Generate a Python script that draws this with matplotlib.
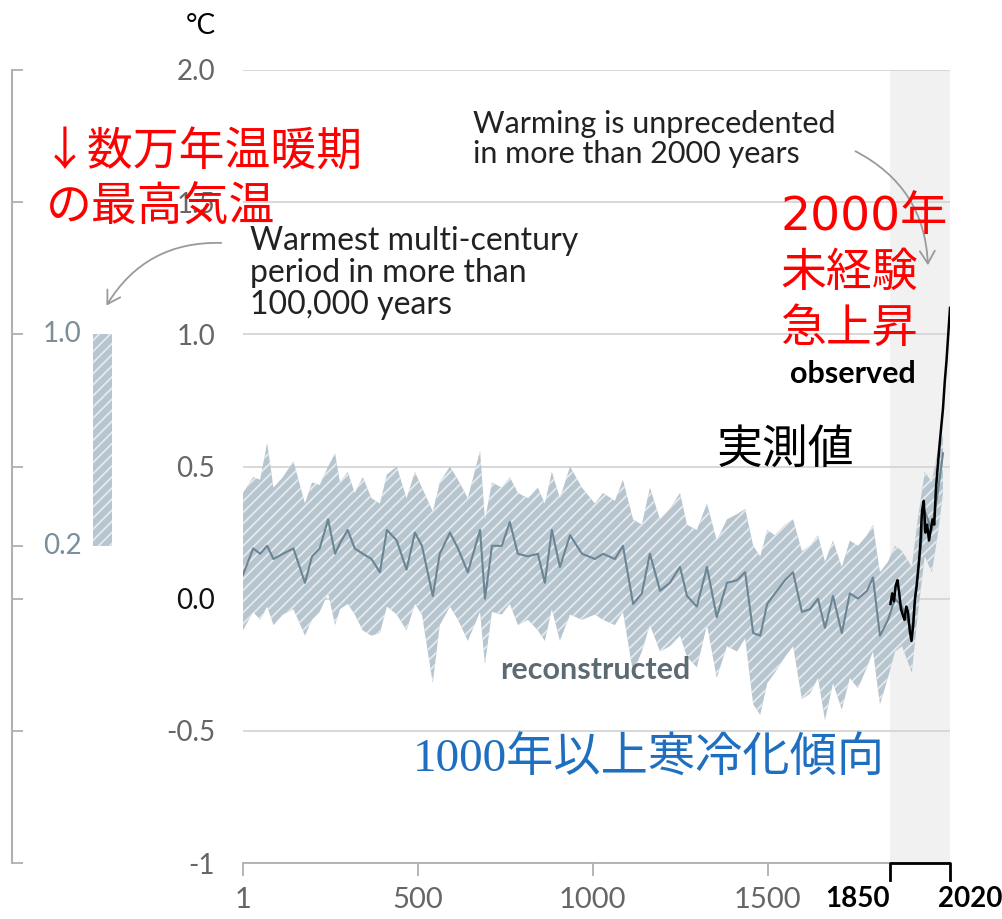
import matplotlib
matplotlib.use("Agg")
import matplotlib.pyplot as plt
from matplotlib.patches import FancyArrowPatch

plt.rcParams['font.family'] = ['Lato', 'Noto Sans CJK JP', 'DejaVu Sans']
plt.rcParams['hatch.linewidth'] = 1.3

# reconstructed global surface temperature (median and band), years 1-2000
recon_years = [1, 30, 50, 70, 88, 115, 145, 178, 198, 220,
               244, 264, 278, 300, 320, 343, 368, 392, 412, 440,
               468, 492, 512, 543, 563, 592, 615, 643, 678, 692,
               712, 740, 763, 786, 815, 843, 863, 883, 906, 935,
               969, 1006, 1029, 1063, 1086, 1115, 1140, 1163, 1192, 1220,
               1249, 1269, 1297, 1326, 1354, 1383, 1412, 1435, 1458, 1478,
               1498, 1520, 1549, 1572, 1597, 1620, 1643, 1663, 1686, 1711,
               1734, 1757, 1783, 1800, 1820, 1843, 1863, 1883, 1911, 1928,
               1948, 1968, 1985, 2000]
recon_mid = [0.09, 0.19, 0.17, 0.20, 0.15, 0.17, 0.19, 0.06, 0.16, 0.19,
             0.30, 0.17, 0.21, 0.26, 0.19, 0.17, 0.15, 0.10, 0.26, 0.22,
             0.11, 0.25, 0.20, 0.01, 0.17, 0.25, 0.19, 0.10, 0.26, 0.00,
             0.20, 0.20, 0.29, 0.17, 0.16, 0.17, 0.06, 0.26, 0.12, 0.24,
             0.17, 0.15, 0.17, 0.15, 0.20, -0.02, 0.02, 0.17, 0.03, 0.06,
             0.12, 0.01, -0.03, 0.12, -0.07, 0.06, 0.07, 0.10, -0.13, -0.14,
             -0.02, 0.02, 0.07, 0.10, -0.05, -0.04, 0.00, -0.11, 0.01, -0.13,
             0.02, 0.00, 0.03, 0.08, -0.14, -0.08, 0.00, -0.03, -0.12, 0.10,
             0.33, 0.26, 0.40, 0.55]
recon_hi = [0.40, 0.46, 0.45, 0.59, 0.42, 0.46, 0.52, 0.36, 0.44, 0.43,
            0.50, 0.55, 0.44, 0.48, 0.40, 0.46, 0.38, 0.36, 0.47, 0.50,
            0.38, 0.48, 0.42, 0.33, 0.44, 0.50, 0.45, 0.38, 0.56, 0.30,
            0.44, 0.42, 0.46, 0.40, 0.38, 0.42, 0.36, 0.48, 0.38, 0.50,
            0.42, 0.36, 0.40, 0.37, 0.45, 0.30, 0.28, 0.42, 0.30, 0.34,
            0.40, 0.28, 0.26, 0.36, 0.22, 0.30, 0.32, 0.34, 0.20, 0.16,
            0.26, 0.24, 0.28, 0.30, 0.18, 0.20, 0.24, 0.14, 0.22, 0.12,
            0.22, 0.20, 0.24, 0.28, 0.10, 0.14, 0.20, 0.18, 0.12, 0.30,
            0.48, 0.44, 0.56, 0.62]
recon_lo = [-0.12, -0.05, -0.08, -0.03, -0.10, -0.06, -0.04, -0.14, -0.08, -0.05,
            0.02, -0.10, -0.04, -0.02, -0.06, -0.12, -0.14, -0.13, -0.03, -0.06,
            -0.12, -0.02, -0.06, -0.32, -0.10, -0.03, -0.08, -0.16, -0.05, -0.25,
            -0.05, -0.06, -0.02, -0.10, -0.08, -0.12, -0.16, -0.04, -0.16, -0.06,
            -0.08, -0.06, -0.08, -0.10, -0.05, -0.28, -0.20, -0.10, -0.20, -0.18,
            -0.14, -0.22, -0.26, -0.10, -0.30, -0.18, -0.20, -0.15, -0.40, -0.44,
            -0.32, -0.28, -0.22, -0.18, -0.38, -0.36, -0.30, -0.46, -0.32, -0.42,
            -0.30, -0.34, -0.26, -0.20, -0.40, -0.30, -0.20, -0.18, -0.28, -0.06,
            0.16, 0.10, 0.24, 0.40]

# observed global surface temperature 1850-2020
obs_years = [1850, 1855, 1860, 1865, 1870, 1875, 1880, 1885, 1890, 1895,
             1900, 1905, 1910, 1915, 1920, 1925, 1930, 1935, 1940, 1945,
             1950, 1955, 1960, 1965, 1970, 1975, 1980, 1985, 1990, 1995,
             2000, 2005, 2010, 2015, 2020]
obs_vals = [-0.02, 0.02, -0.01, 0.05, 0.07, 0.02, -0.04, -0.06, -0.08, -0.03,
            -0.05, -0.12, -0.16, -0.10, 0.00, 0.05, 0.12, 0.20, 0.33, 0.37,
            0.25, 0.28, 0.22, 0.26, 0.30, 0.28, 0.42, 0.50, 0.58, 0.65,
            0.72, 0.82, 0.90, 1.00, 1.10]

# warmest multi-century period in more than 100,000 years
warm_lo, warm_hi = 0.2, 1.0

y_ticks = [-1, -0.5, 0, 0.5, 1, 1.5, 2]
y_labels = ['-1', '-0.5', '0.0', '0.5', '1.0', '1.5', '2.0']
x_ticks = [1, 500, 1000, 1500]
x_labels = ['1', '500', '1000', '1500']

band_face = '#b7c5cf'
band_hatch = '#e4eaef'
grey_txt = '#666666'

W, H = 1002, 919
fig = plt.figure(figsize=(W / 100, H / 100), dpi=100)


def fx(x):
    return x / W


def fy(y):
    return 1 - y / H


# main panel
ax = fig.add_axes([fx(243), fy(863), (950 - 243) / W, (863 - 70) / H])
ax.set_xlim(1, 2020)
ax.set_ylim(-1, 2)
for s in ['top', 'right', 'left']:
    ax.spines[s].set_visible(False)
ax.spines['bottom'].set_color('#b0b0b0')
ax.spines['bottom'].set_linewidth(1.3)

ax.axvspan(1850, 2020, color='#f1f1f1', zorder=0, lw=0)
ax.set_yticks(y_ticks)
ax.set_yticklabels(y_labels, fontsize=20)
ax.tick_params(axis='y', length=0, pad=20)
for lab in ax.get_yticklabels():
    lab.set_color('#111111' if lab.get_text() == '0.0' else grey_txt)
ax.yaxis.grid(True, color='#d6d6d6', lw=1.3)
ax.set_axisbelow(True)

ax.set_xticks(x_ticks)
ax.set_xticklabels(x_labels, fontsize=21, color=grey_txt)
ax.tick_params(axis='x', length=9, width=1.3, color='#b0b0b0', pad=8)

ax.fill_between(recon_years, recon_lo, recon_hi, facecolor=band_face,
                edgecolor=band_hatch, hatch='///', lw=0, zorder=2)
ax.plot(recon_years, recon_mid, color='#6b8594', lw=1.5, zorder=3)
ax.plot(obs_years, obs_vals, color='black', lw=1.8, zorder=4)

# 1850-2020 bracket
ax.plot([1850, 1850, 2020, 2020], [-1.065, -1, -1, -1.065], color='black',
        lw=2, clip_on=False, zorder=5)
fig.text(fx(890), fy(886), '1850', ha='right', va='top', fontsize=20,
         fontweight='bold', color='black')
fig.text(fx(970), fy(886), '2020', ha='center', va='top', fontsize=20,
         fontweight='bold', color='black')

ax.text(1006, -0.27, 'reconstructed', ha='center', va='center', fontsize=22,
        fontweight='bold', color='#5b6a73')
ax.text(1563, 0.85, 'observed', ha='left', va='center', fontsize=22,
        fontweight='bold', color='black')

# side panel with the warm-period bar
axl = fig.add_axes([fx(12), fy(863), (243 - 12) / W, (863 - 70) / H])
axl.set_xlim(0, 1)
axl.set_ylim(-1, 2)
for s in ['top', 'right', 'bottom']:
    axl.spines[s].set_visible(False)
axl.spines['left'].set_color('#b0b0b0')
axl.spines['left'].set_linewidth(1.5)
axl.set_xticks([])
axl.set_yticks([-1, -0.5, 0, 0.2, 0.5, 1, 1.5, 2])
axl.set_yticklabels([])
axl.tick_params(axis='y', direction='in', length=8, width=1.3, color='#b0b0b0')
axl.bar([0.392], [warm_hi - warm_lo], bottom=warm_lo, width=0.085,
        facecolor=band_face, edgecolor=band_hatch, hatch='///', lw=0)
for v in [warm_hi, warm_lo]:
    axl.text(0.3, v, f'{v:.1f}', ha='right', va='center', fontsize=20,
             color='#7b8e9a')
axl.patch.set_alpha(0)

fig.text(fx(216), fy(26), '°C', ha='right', va='center', fontsize=20,
         color='black')

# annotations
en = dict(fontsize=22, color='#222222', ha='left', va='center',
          linespacing=1.1)
fig.text(fx(473), fy(139), 'Warming is unprecedented\nin more than 2000 years', **en)
fig.text(fx(250), fy(273), 'Warmest multi-century\nperiod in more than\n100,000 years',
         **dict(en, fontsize=23))

arrow = dict(arrowstyle='->,head_length=0.5,head_width=0.3', color='#9a9a9a',
             lw=1.3, mutation_scale=18)
fig.add_artist(FancyArrowPatch((224, H - 243), (105, H - 308),
                               connectionstyle='arc3,rad=0.3', transform=None,
                               **arrow))
fig.add_artist(FancyArrowPatch((853, H - 150), (928, H - 268),
                               connectionstyle='arc3,rad=-0.3', transform=None,
                               **arrow))

jp = ['Noto Sans CJK JP', 'DejaVu Sans']
fig.text(fx(42), fy(152), '↓数万年温暖期', family=jp, fontsize=33,
         color='#ff0000', ha='left', va='center')
fig.text(fx(46), fy(207), 'の最高気温', family=jp, fontsize=33,
         color='#ff0000', ha='left', va='center')
fig.text(fx(780), fy(217), '2000年', family=['DejaVu Sans', 'Noto Sans CJK JP'],
         fontsize=34, color='#ff0000', ha='left', va='center')
for i, line in enumerate(['未経験', '急上昇']):
    fig.text(fx(780), fy(273 + 56 * i), line, family=jp, fontsize=33,
             color='#ff0000', ha='left', va='center')
fig.text(fx(717), fy(450), '実測値', family=jp, fontsize=33, color='black',
         ha='left', va='center')
fig.text(fx(413), fy(760), '1000年以上寒冷化傾向',
         family=['Liberation Serif', 'Noto Sans CJK JP'], fontsize=34,
         color='#1f6fc0', ha='left', va='center')

fig.savefig('out.png', dpi=100)
